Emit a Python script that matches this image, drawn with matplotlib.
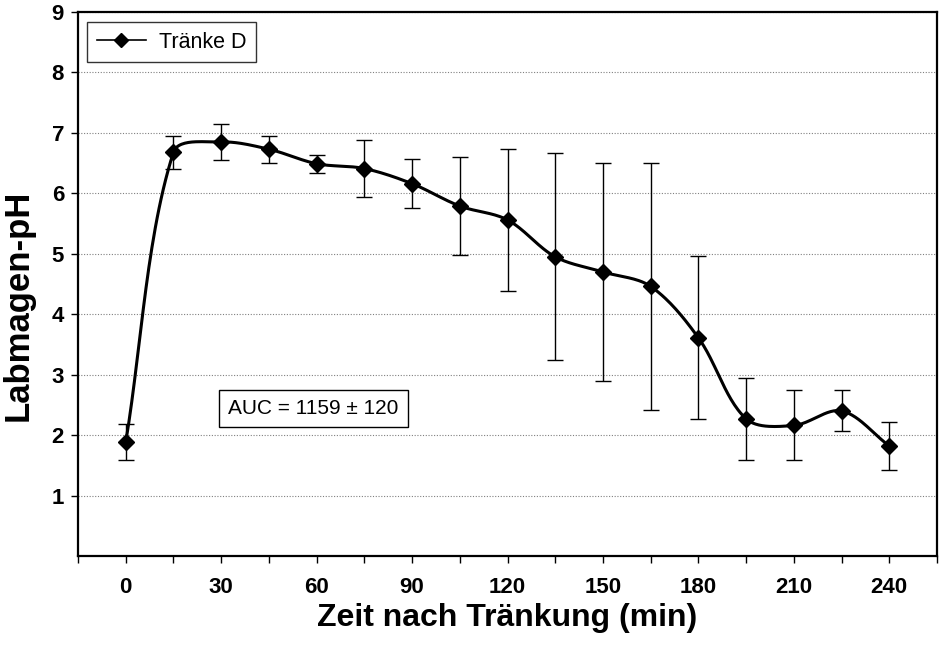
import numpy as np
import matplotlib
matplotlib.use("Agg")
import matplotlib.pyplot as plt
from matplotlib.lines import Line2D

plt.rcParams['font.family'] = ['Liberation Sans', 'DejaVu Sans']

# Labmagen-pH nach Tränkung, Mittelwert und Standardabweichung
zeit = [0, 15, 30, 45, 60, 75, 90, 105, 120, 135, 150, 165, 180, 195, 210, 225, 240]
ph_mittel = [1.88, 6.68, 6.85, 6.73, 6.49, 6.41, 6.16, 5.79, 5.56, 4.95, 4.70,
             4.46, 3.61, 2.27, 2.16, 2.40, 1.82]
ph_sd = [0.30, 0.27, 0.30, 0.22, 0.15, 0.47, 0.40, 0.81, 1.17, 1.71, 1.80,
         2.05, 1.35, 0.68, 0.58, 0.34, 0.40]
x_ticks = list(range(-15, 256, 15))
x_labels = ['' if (t < 0 or t > 240 or t % 30) else str(t) for t in x_ticks]
y_ticks = [1, 2, 3, 4, 5, 6, 7, 8, 9]
serie = 'Tränke D'
auc_text = 'AUC = 1159 ± 120'


def smooth_curve(ax, xs, ys, n=30):
    # bezier smoothing in screen space, control points scaled by segment lengths
    p = ax.transData.transform(np.column_stack([xs, ys]))
    m = len(p)
    d = np.hypot(*np.diff(p, axis=0).T)
    out = []
    for i in range(m - 1):
        if i == 0:
            c1 = p[0] + (p[1] - p[0]) / 3.0
        else:
            t = p[i + 1] - p[i - 1]
            c1 = p[i] + t * d[i] / (d[i - 1] + d[i]) / 3.0
        if i + 1 == m - 1:
            c2 = p[i + 1] - (p[i + 1] - p[i]) / 3.0
        else:
            t = p[i + 2] - p[i]
            c2 = p[i + 1] - t * d[i] / (d[i] + d[i + 1]) / 3.0
        s = np.linspace(0, 1, n)[:, None]
        seg = ((1 - s) ** 3 * p[i] + 3 * (1 - s) ** 2 * s * c1
               + 3 * (1 - s) * s ** 2 * c2 + s ** 3 * p[i + 1])
        out.append(seg if i == 0 else seg[1:])
    pts = ax.transData.inverted().transform(np.vstack(out))
    return pts[:, 0], pts[:, 1]


fig = plt.figure(figsize=(9.47, 6.48), dpi=100)
ax = fig.add_axes([78 / 947, 1 - 556 / 648, 859 / 947, 544 / 648])

ax.set_xlim(-15, 255)
ax.set_ylim(0, 9)

ax.yaxis.grid(True, color='#808080', linestyle=(0, (1, 1.5)), linewidth=0.8)
ax.set_axisbelow(True)

ax.errorbar(zeit, ph_mittel, yerr=ph_sd, fmt='none', ecolor='black',
            elinewidth=1.0, capsize=5.5, capthick=1.0, zorder=2)

sx, sy = smooth_curve(ax, zeit, ph_mittel)
ax.plot(sx, sy, color='black', linewidth=2.2, zorder=3)
ax.plot(zeit, ph_mittel, linestyle='none', marker='D', markersize=8,
        color='black', zorder=4)

ax.set_xticks(x_ticks)
ax.set_xticklabels(x_labels)
ax.set_yticks(y_ticks)
ax.tick_params(axis='both', direction='out', length=5, width=1, color='black',
               labelsize=16)
ax.tick_params(axis='x', pad=10)
ax.tick_params(axis='y', pad=5)
for lab in ax.get_xticklabels() + ax.get_yticklabels():
    lab.set_fontweight('bold')

for sp in ax.spines.values():
    sp.set_linewidth(1.6)
    sp.set_color('black')

ax.set_xlabel('Zeit nach Tränkung (min)', fontsize=23, fontweight='bold')
ax.xaxis.set_label_coords(0.5, -0.086)
ax.set_ylabel('Labmagen-pH', fontsize=25, fontweight='bold')
ax.yaxis.set_label_coords(-0.050, 0.46)

handle = Line2D([], [], color='black', linewidth=1.2, marker='D', markersize=7)
leg = ax.legend([handle], [serie], loc='upper left',
                bbox_to_anchor=(9 / 859, 1 - 10 / 544), borderaxespad=0,
                fancybox=False, frameon=True, fontsize=15.5, handlelength=2.3,
                borderpad=0.45, handletextpad=0.6)
leg.get_frame().set_edgecolor('black')
leg.get_frame().set_linewidth(1.0)

ax.text(58.9, 2.44, auc_text, fontsize=15, ha='center', va='center',
        bbox=dict(boxstyle='square,pad=0.45', facecolor='white',
                  edgecolor='black', linewidth=1.0), zorder=5)

fig.savefig('out.png', dpi=100)
